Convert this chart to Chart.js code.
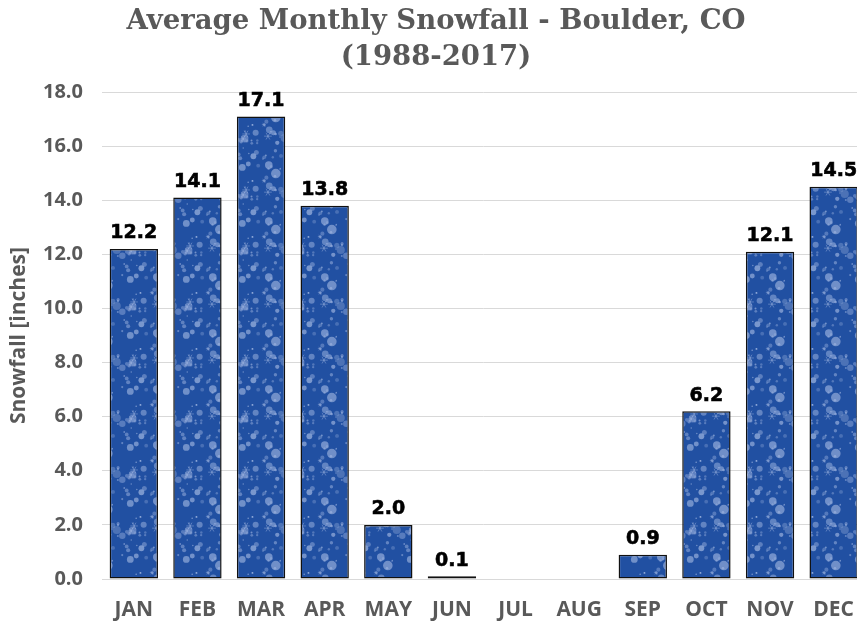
<!DOCTYPE html>
<html>
<head>
<meta charset="utf-8">
<title>Average Monthly Snowfall - Boulder, CO</title>
<script src="https://cdn.jsdelivr.net/npm/chart.js@4"></script>
<style>
  html, body { margin: 0; padding: 0; background: #fff; overflow: hidden; }
  #wrap { position: relative; width: 872px; height: 623px; }
</style>
</head>
<body>
<div id="wrap"><canvas id="snowChart"></canvas></div>
<script>
// Boulder, CO monthly snowfall averages, 1988-2017 (inches)
const months = ["JAN", "FEB", "MAR", "APR", "MAY", "JUN", "JUL", "AUG", "SEP", "OCT", "NOV", "DEC"];
const snowfall = [12.2, 14.1, 17.1, 13.8, 2.0, 0.1, 0, 0, 0.9, 6.2, 12.1, 14.5];
const titleLines = ["Average Monthly Snowfall - Boulder, CO", "(1988-2017)"];

// Snowflake texture used as the bar fill
function makeSnowPattern() {
    const size = 56;
    const tile = document.createElement("canvas");
    tile.width = size;
    tile.height = size;
    const g = tile.getContext("2d");
    g.fillStyle = "#2150a2";
    g.fillRect(0, 0, size, size);
    let seed = 11;
    function next() {
        seed = (seed * 16807) % 2147483647;
        return seed / 2147483647;
    }
    function dot(x, y, r) {
        for (const dx of [-size, 0, size]) {
            for (const dy of [-size, 0, size]) {
                g.beginPath();
                g.arc(x + dx, y + dy, r, 0, Math.PI * 2);
                g.fill();
            }
        }
    }
    g.fillStyle = "#a3b8e2";
    for (let i = 0; i < 52; i++) {
        const x = next() * size, y = next() * size;
        const r = 0.7 + next() * next() * 4.2;
        g.globalAlpha = 0.3 + next() * 0.4;
        dot(x, y, r);
    }
    // a few small six-armed flakes, kept off the tile edges
    g.strokeStyle = "#b3c6ea";
    g.lineWidth = 0.8;
    g.globalAlpha = 0.5;
    for (let i = 0; i < 4; i++) {
        const x = 8 + next() * (size - 16), y = 8 + next() * (size - 16), r = 2 + next() * 2;
        g.beginPath();
        for (let k = 0; k < 3; k++) {
            const a = k * Math.PI / 3;
            g.moveTo(x - Math.cos(a) * r, y - Math.sin(a) * r);
            g.lineTo(x + Math.cos(a) * r, y + Math.sin(a) * r);
        }
        g.stroke();
    }
    g.globalAlpha = 1;
    return g.createPattern(tile, "repeat");
}

// Value printed above each bar
const valueLabels = {
    id: "valueLabels",
    afterDatasetsDraw(chart) {
        const ctx = chart.ctx;
        const meta = chart.getDatasetMeta(0);
        ctx.save();
        ctx.font = "bold 19px 'DejaVu Sans'";
        ctx.fillStyle = "#000";
        ctx.strokeStyle = "#000";
        ctx.lineWidth = 0.6;
        ctx.textAlign = "center";
        ctx.textBaseline = "bottom";
        meta.data.forEach((bar, i) => {
            const v = chart.data.datasets[0].data[i];
            if (v === 0) return;
            ctx.fillText(v.toFixed(1), bar.x, bar.y - 6);
            ctx.strokeText(v.toFixed(1), bar.x, bar.y - 6);
        });
        ctx.restore();
    }
};

const ctx = document.getElementById("snowChart").getContext("2d");
const snowChart = new Chart(ctx, {
    type: "bar",
    data: {
        labels: months,
        datasets: [{
            label: "Snowfall",
            data: snowfall,
            backgroundColor: makeSnowPattern(),
            borderColor: "#111",
            borderWidth: 1.5,
            borderSkipped: false,
            categoryPercentage: 1,
            barPercentage: 0.76
        }]
    },
    options: {
        responsive: true,
        maintainAspectRatio: false,
        animation: false,
        layout: { padding: { top: 4, left: 0, right: 0, bottom: 0 } },
        plugins: {
            legend: { display: false },
            tooltip: { enabled: false },
            title: {
                display: true,
                text: titleLines,
                color: "#595959",
                font: { family: "'DejaVu Serif'", size: 27.5, weight: "bold", lineHeight: 1.31 },
                padding: { top: 0, bottom: 16 }
            }
        },
        scales: {
            x: {
                grid: { display: false, drawTicks: false },
                border: { display: true, color: "#d9d9d9", width: 1 },
                ticks: {
                    color: "#595959",
                    font: { family: "'Open Sans'", size: 21, weight: "bold" },
                    padding: 18
                },
                afterFit(scale) { scale.height = 44; }
            },
            y: {
                min: 0,
                max: 18,
                grid: { color: "#d9d9d9", drawTicks: false },
                border: { display: false },
                ticks: {
                    stepSize: 2,
                    color: "#595959",
                    font: { family: "'Open Sans'", size: 20, weight: "bold" },
                    padding: 19,
                    callback: v => v.toFixed(1)
                },
                title: {
                    display: true,
                    text: "Snowfall [inches]",
                    color: "#595959",
                    font: { family: "'Open Sans'", size: 21, weight: "bold" },
                    padding: { top: 6, bottom: 0 }
                },
                afterFit(scale) { scale.width = 102; }
            }
        }
    },
    plugins: [valueLabels]
});
</script>
</body>
</html>
